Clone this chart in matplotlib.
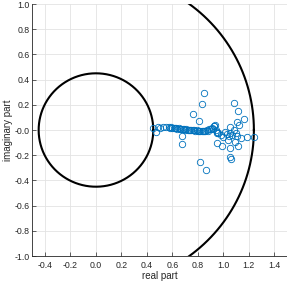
import matplotlib; matplotlib.use("Agg")
import matplotlib.pyplot as plt
import numpy as np

plt.rcParams["axes.unicode_minus"] = False
plt.rcParams["font.family"] = ["Liberation Sans", "DejaVu Sans"]

# eigenvalues (real, imag)
chain_re = [0.45, 0.47, 0.49, 0.50, 0.53, 0.55, 0.57, 0.58, 0.59, 0.60, 0.61, 0.62, 0.63,
            0.64, 0.65, 0.66, 0.67, 0.68, 0.69, 0.70, 0.71, 0.72, 0.73, 0.74, 0.75, 0.76,
            0.77, 0.78, 0.79, 0.80, 0.81, 0.82, 0.83, 0.84, 0.85, 0.86, 0.87, 0.88, 0.89,
            0.90, 0.91, 0.92, 0.93, 0.93, 0.94, 0.95, 0.96]
chain_im = [0.013, -0.013, 0.02, 0.015, 0.02, 0.02, 0.02, 0.018, 0.02, 0.015, 0.018, 0.012, 0.015,
            0.01, 0.012, 0.008, 0.01, 0.005, 0.008, 0.004, 0.005, 0.0, 0.004, 0.0, 0.002, -0.002,
            0.0, -0.004, -0.002, -0.006, -0.004, -0.008, -0.005, -0.01, -0.006, -0.008, 0.002, -0.01,
            0.006, 0.01, 0.015, 0.01, 0.035, 0.03, 0.0, -0.015, -0.02]
scat_re = [0.849, 0.833, 0.762, 0.807, 1.083, 1.114, 1.161, 1.104, 1.125, 1.056, 0.938,
           0.676, 0.676, 0.951, 0.991, 1.056, 1.117, 1.188, 1.240, 1.135, 1.056, 1.064,
           0.820, 0.865, 0.999, 1.038, 1.070, 1.096, 1.110, 1.088, 0.978, 0.951, 1.051,
           1.017, 1.045, 1.080, 1.030]
scat_im = [0.296, 0.204, 0.127, 0.074, 0.217, 0.151, 0.085, 0.063, 0.040, 0.026, 0.040,
           -0.045, -0.111, -0.106, -0.127, -0.146, -0.124, -0.058, -0.053, -0.066, -0.212, -0.233,
           -0.254, -0.315, -0.058, -0.079, -0.040, -0.021, -0.048, -0.093, -0.040, -0.021, -0.026,
           -0.013, -0.05, 0.0, -0.03]
r_inner = 0.45
r_outer = 1.24

fig = plt.figure(figsize=(2.87, 2.87), dpi=100)
ax = fig.add_axes([0.1125, 0.108, 0.8875, 0.878])

t = np.linspace(0, 2 * np.pi, 400)
ax.plot(r_inner * np.cos(t), r_inner * np.sin(t), color="black", lw=1.5)
ax.plot(r_outer * np.cos(t), r_outer * np.sin(t), color="black", lw=1.5)
ax.plot(chain_re + scat_re, chain_im + scat_im, "o", mfc="none", mec="#0072BD",
        ms=4.6, mew=0.6, ls="none")

ax.set_xlim(-0.5, 1.5); ax.set_ylim(-1, 1)
ax.set_xticks(np.arange(-0.4, 1.41, 0.2)); ax.set_yticks(np.arange(-1, 1.01, 0.2))
ax.xaxis.set_major_formatter(matplotlib.ticker.FormatStrFormatter("%.1f"))
ax.yaxis.set_major_formatter(matplotlib.ticker.FormatStrFormatter("%.1f"))
ax.grid(True, color="#e3e3e3", lw=0.6)
ax.set_axisbelow(True)
for s in ["top", "right"]: ax.spines[s].set_visible(False)
for s in ["left", "bottom"]: ax.spines[s].set_color("#262626"); ax.spines[s].set_linewidth(0.6)
ax.tick_params(direction="in", length=3, width=0.5, labelsize=6.3, colors="#262626", pad=2)
ax.tick_params(axis="x", pad=3.5)
ax.set_xlabel("real part", fontsize=7, color="#262626", labelpad=1)
ax.set_ylabel("imaginary part", fontsize=7, color="#262626", labelpad=1)

fig.savefig("out.png", dpi=100)
